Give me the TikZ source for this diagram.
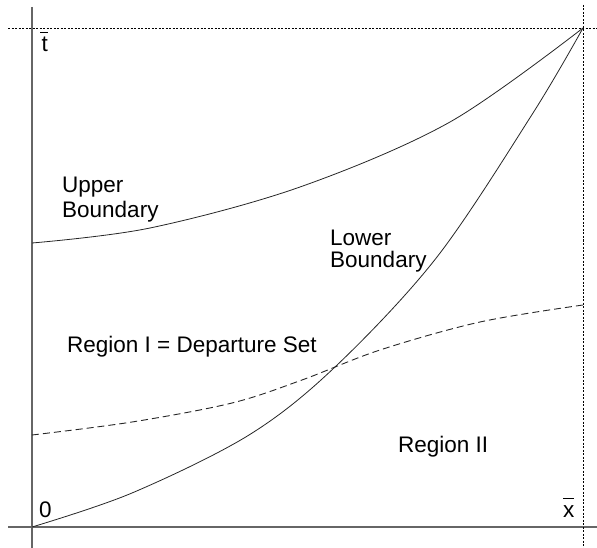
\documentclass[tikz,border=0pt]{standalone}
\usepackage{fontspec}
\setmainfont{Liberation Sans}
\begin{document}
\begin{tikzpicture}[x=1pt,y=-1pt,
  axis/.style={draw=black!60, line width=1.2pt},
  guide/.style={draw=black, line width=0.8pt, dash pattern=on 2pt off 1.5pt},
  curve/.style={draw=black!85, line width=0.8pt},
  dcurve/.style={draw=black!85, line width=0.9pt, dash pattern=on 7pt off 4pt},
  lbl/.style={anchor=base west, inner sep=0pt, font=\fontsize{22.5}{25}\selectfont}]
\useasboundingbox (0,0) rectangle (597,548);
% key points
\coordinate (O) at (32,527);
\coordinate (C) at (583,28);
\coordinate (Ytop) at (32,7);
\coordinate (Ybot) at (32,548);
\coordinate (Xl) at (8,527);
\coordinate (Xr) at (597,527);
\coordinate (Tl) at (8,28);
\coordinate (Tr) at (597,28);
\coordinate (Rt) at (583,5);
\coordinate (Rb) at (583,548);
\coordinate (U0) at (32,243);
\coordinate (D0) at (32,435);
\coordinate (D1) at (583,305);
% axes
\draw[axis] (Ytop) -- (Ybot);
\draw[axis] (Xl) -- (Xr);
% dotted guides
\draw[guide] (Tl) -- (Tr);
\draw[guide] (Rt) -- (Rb);
% upper boundary
\draw[curve] plot[smooth, tension=0.55] coordinates {(U0) (150,228) (300,187) (450,122) (C)};
% lower boundary
\draw[curve] plot[smooth, tension=0.55] coordinates {(O) (132,493) (249,435) (335,367) (437,257) (533,113) (C)};
% departure set boundary
\draw[dcurve] plot[smooth, tension=0.55] coordinates {(D0) (132,422) (232,403) (302,380) (380,350) (480,322) (D1)};
% labels
\node[lbl] (tlab) at (41.5,52) {\rlap{\hspace{-1.5pt}\raisebox{19pt}{\rule{7.5pt}{0.9pt}}}t};
\node[lbl] (zero) at (39,517) {0};
\node[lbl] (xlab) at (563,517) {\rlap{\raisebox{18.5pt}{\rule{10.5pt}{0.9pt}}}x};
\node[lbl] (up1) at (62,193) {Upper};
\node[lbl] (up2) at (62,218) {Boundary};
\node[lbl] (lo1) at (330,246) {Lower};
\node[lbl] (lo2) at (330,267) {Boundary};
\node[lbl] (r1) at (67,352) {Region I = Departure Set};
\node[lbl] (r2) at (398,452) {Region II};
\end{tikzpicture}
\end{document}
